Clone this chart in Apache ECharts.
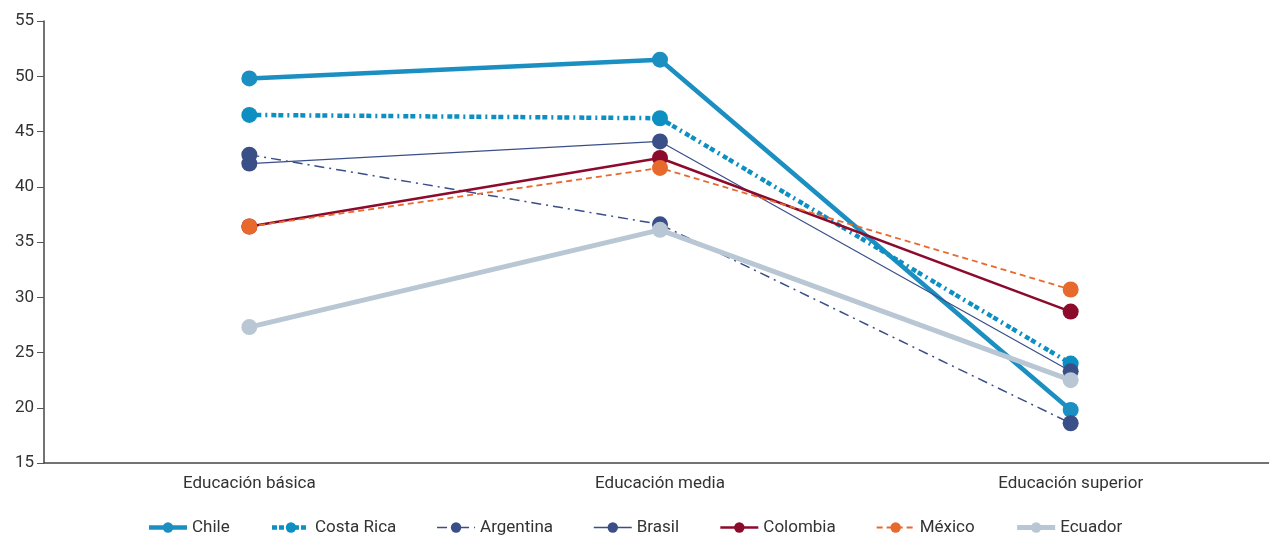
<!DOCTYPE html>
<html><head><meta charset="utf-8">
<script src="https://cdn.jsdelivr.net/npm/echarts@6/dist/echarts.min.js"></script>
<style>html,body{margin:0;padding:0;background:#fff}#c{width:1269px;height:535px}</style>
</head><body><div id="c"></div>
<script>
const categories = ['Educación básica', 'Educación media', 'Educación superior'];
const chile = [49.8, 51.5, 19.8];
const costaRica = [46.5, 46.2, 24.0];
const argentina = [42.9, 36.6, 18.6];
const brasil = [42.1, 44.1, 23.3];
const colombia = [36.4, 42.6, 28.7];
const mexico = [36.4, 41.7, 30.7];
const ecuador = [27.3, 36.1, 22.5];

const FONT = '"Roboto", sans-serif';
const styles = {
  'Chile': { color: '#1b8fc1', width: 4.5, type: 'solid' },
  'Costa Rica': { color: '#0e8fc2', width: 4.5, type: [5, 2, 5, 4, 2, 4] },
  'Argentina': { color: '#3a4e88', width: 1.5, type: [10, 5, 2, 5] },
  'Brasil': { color: '#3a4e88', width: 1.2, type: 'solid' },
  'Colombia': { color: '#8c0a2c', width: 2.5, type: 'solid' },
  'México': { color: '#e8692c', width: 1.8, type: [6, 4] },
  'Ecuador': { color: '#b8c7d3', width: 5, type: 'solid' }
};
function s(name, data) {
  const st = styles[name];
  return {
    name, type: 'line', data, symbol: 'circle', symbolSize: 16,
    itemStyle: { color: st.color },
    lineStyle: { color: st.color, width: st.width, type: st.type },
    emphasis: { disabled: true }
  };
}
const names = ['Chile', 'Costa Rica', 'Argentina', 'Brasil', 'Colombia', 'México', 'Ecuador'];
const chart = echarts.init(document.getElementById('c'));
chart.setOption({
  animation: false,
  textStyle: { fontFamily: FONT },
  grid: { left: 44, top: 21, width: 1232, height: 442, outerBoundsMode: 'none', containLabel: false },
  legend: {
    bottom: -6, left: 'center', itemWidth: 38, itemHeight: 13, itemGap: 40,
    textStyle: { fontFamily: FONT, fontSize: 17, color: '#333' },
    data: names.map(n => ({ name: n, lineStyle: { width: Math.max(styles[n].width, 1.5), type: styles[n].type } }))
  },
  xAxis: {
    type: 'category', data: categories, boundaryGap: true,
    axisLine: { lineStyle: { color: '#444', width: 1.5 } },
    axisTick: { length: 7, lineStyle: { color: '#555' } },
    axisLabel: { fontFamily: FONT, fontSize: 17, color: '#333', margin: 12 }
  },
  yAxis: {
    type: 'value', min: 15, max: 55, interval: 5,
    axisLine: { show: true, lineStyle: { color: '#444', width: 1.5 } },
    axisTick: { show: true, length: 7, lineStyle: { color: '#555' } },
    splitLine: { show: false },
    axisLabel: { fontFamily: FONT, fontSize: 17, color: '#333', margin: 10 }
  },
  series: [
    s('Chile', chile),
    s('Costa Rica', costaRica),
    s('Argentina', argentina),
    s('Brasil', brasil),
    s('Colombia', colombia),
    s('México', mexico),
    s('Ecuador', ecuador)
  ]
});
</script></body></html>
